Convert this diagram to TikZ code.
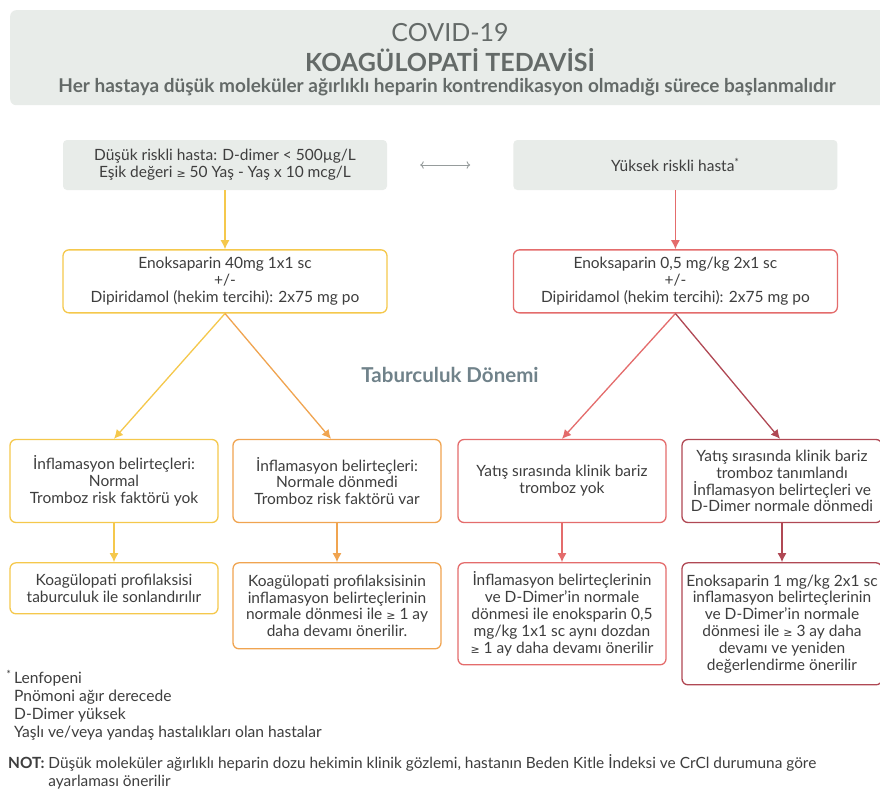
\documentclass[tikz,border=0pt]{standalone}
\usepackage{fontspec}
\setmainfont{Lato}
\newfontfamily\symfont{DejaVu Sans}
\usepackage{tikz}
\usetikzlibrary{arrows.meta, positioning}
\definecolor{HeaderGrey}{RGB}{232,236,233}
\definecolor{TextGrey}  {RGB}{62, 62, 62}
\definecolor{TitleGrey} {RGB}{100,106,104}
\definecolor{PhaseGrey} {RGB}{112,130,138}
\definecolor{Sari}      {RGB}{245,200,76}
\definecolor{Turuncu}   {RGB}{240,164,80}
\definecolor{Kirmizi}   {RGB}{228,108,108}
\definecolor{Bordo}     {RGB}{176,72, 84}
\definecolor{OkGrey}    {RGB}{150,156,156}
\newcommand{\boxfont}{\fontsize{15.5}{16.8}\selectfont}
\newcommand{\geqsym}{{\symfont\fontsize{11}{11}\selectfont ≥}}

\begin{document}
\begin{tikzpicture}[x=1pt,y=-1pt,font=\boxfont,
    greybox/.style={fill=HeaderGrey,text=TextGrey,rounded corners=4pt,minimum width=324pt,minimum height=50pt,align=center},
    flowbox/.style={draw,line width=1.3pt,fill=white,text=TextGrey,rounded corners=6pt,minimum width=208pt,align=center},
    arr/.style={-{Latex[length=9pt,width=9pt]},line width=1.3pt}]
  \clip (0,0) rectangle (880,788);
  \fill[white] (0,0) rectangle (880,788);
  % baslik
  \node[fill=HeaderGrey,rounded corners=6pt,minimum width=890pt,minimum height=95pt,anchor=north west] (header) at (10,10) {};
  \node[text=TitleGrey,font=\fontsize{25}{28}\selectfont] (covid) at (450,33) {COVID-19};
  \node[text=TitleGrey,font=\fontsize{25}{28}\selectfont\bfseries] (title) at (450,60) {KOAGÜLOPATİ TEDAVİSİ};
  \node[text=TitleGrey,font=\fontsize{19}{22}\selectfont\bfseries] (subtitle) at (447,87) {Her hastaya düşük moleküler ağırlıklı heparin kontrendikasyon olmadığı sürece başlanmalıdır};
  % hasta gruplari
  \node[greybox] (lowrisk) at (225,165) {Düşük riskli hasta: D-dimer < 500µg/L\\Eşik değeri \geqsym{} 50 Yaş - Yaş x 10 mcg/L};
  \node[greybox,right=126pt of lowrisk] (highrisk) {Yüksek riskli hasta\textsuperscript{*}};
  \node[flowbox,draw=Sari,minimum width=324pt,minimum height=63pt,below=59pt of lowrisk] (lowdose) {Enoksaparin 40mg 1x1 sc\\+/-\\Dipiridamol (hekim tercihi): 2x75 mg po};
  \node[flowbox,draw=Kirmizi,minimum width=324pt,minimum height=63pt,below=59pt of highrisk] (highdose) {Enoksaparin 0,5 mg/kg 2x1 sc\\+/-\\Dipiridamol (hekim tercihi): 2x75 mg po};
  \node[text=PhaseGrey,font=\fontsize{20.5}{24}\selectfont\bfseries] (phase) at (450,375) {Taburculuk Dönemi};
  % taburculuk
  \node[flowbox,draw=Sari,minimum height=83pt] (lownormal) at (114,481) {İnflamasyon belirteçleri:\\Normal\\Tromboz risk faktörü yok};
  \node[flowbox,draw=Turuncu,minimum height=83pt] (lowabnormal) at (337,481) {İnflamasyon belirteçleri:\\Normale dönmedi\\Tromboz risk faktörü var};
  \node[flowbox,draw=Kirmizi,minimum height=83pt] (highnoclot) at (562,481) {Yatış sırasında klinik bariz\\tromboz yok};
  \node[flowbox,draw=Bordo,minimum width=200pt,minimum height=83pt] (highclot) at (782,481) {Yatış sırasında klinik bariz\\tromboz tanımlandı\\İnflamasyon belirteçleri ve\\D-Dimer normale dönmedi};
  \node[flowbox,draw=Sari,minimum height=51pt,below=39pt of lownormal] (stopprof) {Koagülopati profilaksisi\\taburculuk ile sonlandırılır};
  \node[flowbox,draw=Turuncu,minimum height=86pt,below=39pt of lowabnormal] (extprof) {Koagülopati profilaksisinin\\inflamasyon belirteçlerinin\\normale dönmesi ile \geqsym{} 1 ay\\daha devamı önerilir.};
  \node[flowbox,draw=Kirmizi,minimum height=102pt,below=39pt of highnoclot] (extdose) {İnflamasyon belirteçlerinin\\ve D-Dimer’in normale\\dönmesi ile enoksparin 0,5\\mg/kg 1x1 sc aynı dozdan\\\geqsym{} 1 ay daha devamı önerilir};
  \node[flowbox,draw=Bordo,minimum width=200pt,minimum height=122pt,below=39pt of highclot] (fulldose) {Enoksaparin 1 mg/kg 2x1 sc\\inflamasyon belirteçlerinin\\ve D-Dimer’in normale\\dönmesi ile \geqsym{} 3 ay daha\\devamı ve yeniden\\değerlendirme önerilir};
  % oklar
  \draw[<->,OkGrey,line width=0.9pt,shorten <=33pt,shorten >=43pt] (lowrisk) -- (highrisk);
  \draw[arr,Sari] (lowrisk) -- (lowdose);
  \draw[arr,Kirmizi] (highrisk) -- (highdose);
  \draw[arr,Sari] (lowdose.south) -- (lownormal.north);
  \draw[arr,Turuncu] (lowdose.south) -- ([xshift=-6pt]lowabnormal.north);
  \draw[arr,Kirmizi] (highdose.south) -- (highnoclot.north);
  \draw[arr,Bordo] (highdose.south) -- ([xshift=-2pt]highclot.north);
  \draw[arr,Sari] (lownormal) -- (stopprof);
  \draw[arr,Turuncu] (lowabnormal) -- (extprof);
  \draw[arr,Kirmizi] (highnoclot) -- (extdose);
  \draw[arr,Bordo] (highclot) -- (fulldose);
  % dipnot
  \node[anchor=north west,align=left,text=TextGrey,font=\fontsize{15.6}{18}\selectfont,inner sep=0pt] (notes) at (14,670) {\llap{\textsuperscript{*}\,}Lenfopeni\\Pnömoni ağır derecede\\D-Dimer yüksek\\Yaşlı ve/veya yandaş hastalıkları olan hastalar};
  \node[anchor=north west,text=TextGrey,font=\fontsize{15.4}{18}\selectfont,inner sep=0pt] (warning) at (8,754) {\begin{tabular}{@{}l@{ }l@{}}\textbf{NOT:} & Düşük moleküler ağırlıklı heparin dozu hekimin klinik gözlemi, hastanın Beden Kitle İndeksi ve CrCl durumuna göre\\ & ayarlaması önerilir\end{tabular}};
\end{tikzpicture}
\end{document}
